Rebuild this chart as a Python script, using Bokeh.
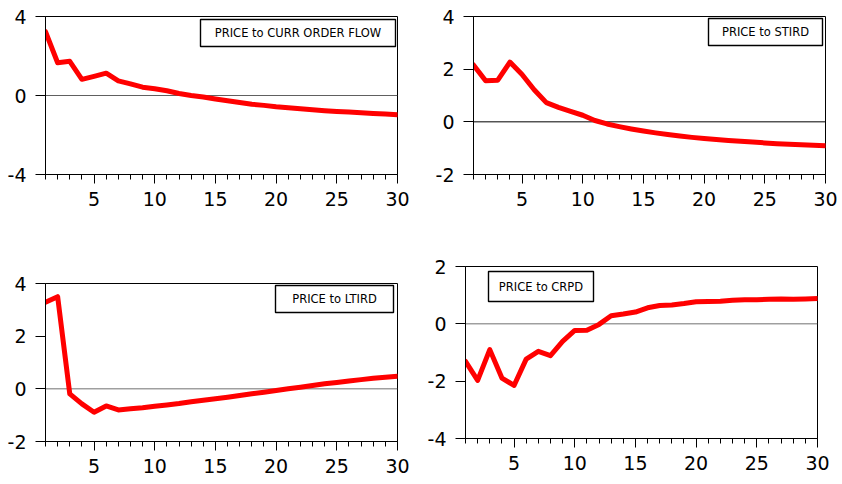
from bokeh.plotting import figure
from bokeh.layouts import column, row
from bokeh.models import Range1d, FixedTicker, Span, BoxAnnotation, Label
from bokeh.embed import file_html
from bokeh.resources import INLINE

# Impulse responses of PRICE, horizon 1..30
periods = list(range(1, 31))

curr_order_flow = [3.23, 1.66, 1.73, 0.82, 0.97, 1.13, 0.74, 0.59, 0.42, 0.34,
                   0.24, 0.10, 0.00, -0.08, -0.18, -0.27, -0.35, -0.44, -0.50, -0.57,
                   -0.62, -0.67, -0.72, -0.77, -0.81, -0.84, -0.87, -0.91, -0.94, -0.97]

stird = [2.16, 1.56, 1.58, 2.27, 1.80, 1.22, 0.73, 0.55, 0.40, 0.25,
         0.05, -0.08, -0.18, -0.27, -0.35, -0.42, -0.48, -0.54, -0.59, -0.63,
         -0.67, -0.71, -0.74, -0.77, -0.80, -0.83, -0.85, -0.87, -0.89, -0.91]

ltird = [3.29, 3.50, -0.19, -0.57, -0.89, -0.65, -0.80, -0.76, -0.72, -0.66,
         -0.61, -0.56, -0.49, -0.43, -0.38, -0.32, -0.25, -0.19, -0.13, -0.06,
         0.00, 0.06, 0.13, 0.19, 0.24, 0.30, 0.35, 0.40, 0.44, 0.48]

crpd = [-1.31, -1.97, -0.90, -1.89, -2.15, -1.23, -0.96, -1.11, -0.61, -0.23,
        -0.22, -0.02, 0.28, 0.34, 0.41, 0.56, 0.64, 0.66, 0.71, 0.77,
        0.78, 0.79, 0.82, 0.84, 0.84, 0.86, 0.87, 0.86, 0.87, 0.88]

x_major_ticks = [5, 10, 15, 20, 25, 30]

FRAME_W = 352
TICK_FONT = "DejaVu Sans"


def make_panel(values, title, y_lo, y_hi, y_ticks, zero_color, frame_h,
               border, box):
    """border = (left, right, top, bottom); box = legend box offsets in px
    from the frame's top-left corner (left, right, top, bottom)."""
    left, right, top, bottom = border
    p = figure(frame_width=FRAME_W, frame_height=frame_h,
               x_range=Range1d(1, 30), y_range=Range1d(y_lo, y_hi),
               output_backend="svg", toolbar_location=None,
               min_border_left=left, min_border_right=right,
               min_border_top=top, min_border_bottom=bottom,
               background_fill_color="white", border_fill_color="white")
    p.grid.visible = False
    p.outline_line_color = "black"
    p.outline_line_width = 1
    p.outline_line_alpha = 1

    # x axis: labels every 5 periods, small ticks every period
    xa = p.xaxis[0]
    xa.ticker = FixedTicker(ticks=x_major_ticks, minor_ticks=periods)
    xa.major_tick_in = 0
    xa.minor_tick_in = 0
    xa.major_tick_out = 9
    xa.minor_tick_out = 5
    xa.major_label_standoff = 8

    # y axis: plain hyphen for negative labels
    ya = p.yaxis[0]
    ya.ticker = FixedTicker(ticks=y_ticks)
    ya.major_label_overrides = {t: str(t) for t in y_ticks}
    ya.major_tick_in = 0
    ya.major_tick_out = 10
    ya.minor_tick_in = 0
    ya.minor_tick_out = 0
    ya.major_label_standoff = 9

    for ax in (xa, ya):
        ax.axis_line_color = "black"
        ax.axis_line_width = 1
        ax.major_tick_line_color = "black"
        ax.minor_tick_line_color = "black"
        ax.major_label_text_font = TICK_FONT
        ax.major_label_text_font_size = "19px"
        ax.major_label_text_color = "black"

    p.add_layout(Span(location=0, dimension="width", line_color=zero_color,
                      line_width=1, level="underlay"))

    p.line(periods, values, line_color="#ff0000", line_width=5,
           line_join="round", line_cap="round")

    # legend box placed by pixel offsets inside the frame
    def fx(px):
        return 1 + px / FRAME_W * 29

    def fy(py):
        return y_hi - py / frame_h * (y_hi - y_lo)

    bl, br, bt, bb = box
    p.add_layout(BoxAnnotation(left=fx(bl), right=fx(br), top=fy(bt),
                               bottom=fy(bb), fill_color="white",
                               fill_alpha=1, line_color="black",
                               line_width=1.4, line_alpha=1))
    p.add_layout(Label(x=fx((bl + br) / 2), y=fy((bt + bb) / 2), text=title,
                       text_align="center", text_baseline="middle",
                       text_font="DejaVu Sans", text_font_size="11.5px",
                       text_color="black"))
    return p


p1 = make_panel(curr_order_flow, "PRICE to CURR ORDER FLOW", -4, 4, [-4, 0, 4],
                "#606060", 158, (45, 24, 16, 68), (155, 350, 3, 30))
p2 = make_panel(stird, "PRICE to STIRD", -2, 4, [-2, 0, 2, 4],
                "#000000", 158, (52, 17, 16, 68), (235, 349, 2, 29))
p3 = make_panel(ltird, "PRICE to LTIRD", -2, 4, [-2, 0, 2, 4],
                "#707070", 158, (45, 24, 41, 43), (230, 348, 2, 29))
p4 = make_panel(crpd, "PRICE to CRPD", -4, 2, [-4, -2, 0, 2],
                "#707070", 172, (44, 25, 24, 46), (23, 128, 5, 35))

# each panel sits in its own column so frames keep their own vertical offsets
layout = column(
    row(column(p1), column(p2), spacing=0),
    row(column(p3), column(p4), spacing=0),
    spacing=0,
)

open("out.html", "w").write(file_html(layout, INLINE))
